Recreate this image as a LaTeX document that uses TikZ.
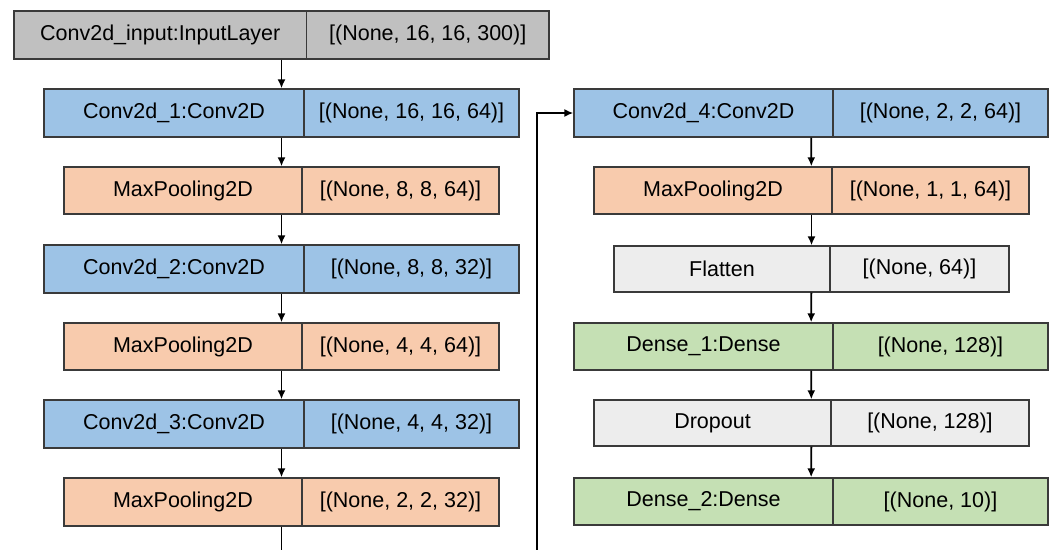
\documentclass[tikz,border=0pt]{standalone}
\usepackage{fontspec}
\setmainfont{Liberation Sans}
\usetikzlibrary{arrows.meta}

\definecolor{inputgray}{HTML}{C0C0C0}
\definecolor{convblue}{HTML}{9DC3E6}
\definecolor{poolorange}{HTML}{F8CBAD}
\definecolor{plaingray}{HTML}{EDEDED}
\definecolor{densegreen}{HTML}{C5E0B4}
\definecolor{edgegray}{HTML}{3A3A3A}

\tikzset{
  layerbox/.style={draw=edgegray, line width=1.3pt, rectangle, inner sep=0pt},
  layertext/.style={inner sep=0pt, font=\fontsize{21.5}{26}\selectfont},
  divider/.style={draw=edgegray, line width=1.3pt},
  flow/.style={draw=black, line width=1.8pt, -{Latex[length=9pt,width=8pt]}},
}

% \layer{name}{left}{divider}{right}{top}{bottom}{fill}{layer name}{output shape}
\newcommand\layer[9]{%
  \node[layerbox, fill=#7, minimum width={(#4-#2)*1pt}, minimum height={(#6-#5)*1pt}]
    (#1) at ({(#2+#4)/2},{(#5+#6)/2}) {};
  \node[layertext] (#1-name) at ({(#2+#3)/2},{(#5+#6)/2}) {#8};
  \node[layertext] (#1-shape) at ({(#3+#4)/2},{(#5+#6)/2}) {#9};
  \draw[divider] (#3,#5) -- (#3,#6);
}

\begin{document}
\begin{tikzpicture}[x=1pt, y=-1pt]
  \useasboundingbox (0,0) rectangle (1052,549);
  \clip (0,0) rectangle (1052,549);

  % left column
  \layer{inp}{14}{306.5}{549}{11}{59}{inputgray}{Conv2d\_input:InputLayer}{[(None, 16, 16, 300)]}
  \layer{convA}{44}{304}{519}{89}{137}{convblue}{Conv2d\_1:Conv2D}{[(None, 16, 16, 64)]}
  \layer{poolA}{64}{302}{499}{167}{214}{poolorange}{MaxPooling2D}{[(None, 8, 8, 64)]}
  \layer{convB}{44}{304}{519}{245}{293}{convblue}{Conv2d\_2:Conv2D}{[(None, 8, 8, 32)]}
  \layer{poolB}{64}{302}{499}{323}{370}{poolorange}{MaxPooling2D}{[(None, 4, 4, 64)]}
  \layer{convC}{44}{304}{519}{400}{448}{convblue}{Conv2d\_3:Conv2D}{[(None, 4, 4, 32)]}
  \layer{poolC}{64}{302}{499}{478}{526}{poolorange}{MaxPooling2D}{[(None, 2, 2, 32)]}

  % right column
  \layer{convD}{574}{833}{1048}{89}{137}{convblue}{Conv2d\_4:Conv2D}{[(None, 2, 2, 64)]}
  \layer{poolD}{594}{832}{1029}{167}{214}{poolorange}{MaxPooling2D}{[(None, 1, 1, 64)]}
  \layer{flat}{614}{830}{1009}{246}{292}{plaingray}{Flatten}{[(None, 64)]}
  \layer{denseA}{574}{833}{1048}{323}{370}{densegreen}{Dense\_1:Dense}{[(None, 128)]}
  \layer{drop}{594}{831}{1029}{400}{446}{plaingray}{Dropout}{[(None, 128)]}
  \layer{denseB}{574}{833}{1048}{478}{525}{densegreen}{Dense\_2:Dense}{[(None, 10)]}

  % data flow
  \draw[flow] (inp) -- (convA);
  \draw[flow] (convA) -- (poolA);
  \draw[flow] (poolA) -- (convB);
  \draw[flow] (convB) -- (poolB);
  \draw[flow] (poolB) -- (convC);
  \draw[flow] (convC) -- (poolC);

  \coordinate (wrap) at (537,580);
  \draw[flow] (poolC.south) |- (wrap) |- (convD.west);

  \draw[flow] (convD) -- (poolD);
  \draw[flow] (poolD) -- (flat);
  \draw[flow] (flat) -- (denseA);
  \draw[flow] (denseA) -- (drop);
  \draw[flow] (drop) -- (denseB);
\end{tikzpicture}
\end{document}
